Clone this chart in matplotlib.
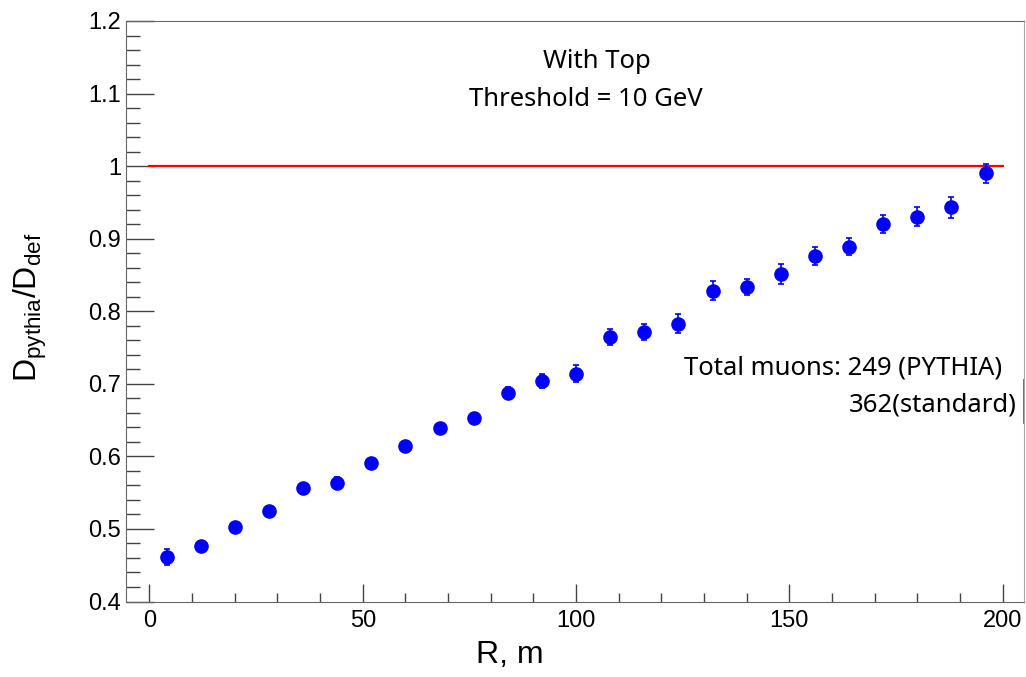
import matplotlib
matplotlib.use("Agg")
import matplotlib.pyplot as plt
from matplotlib.ticker import MultipleLocator

plt.rcParams['font.family'] = ['Liberation Sans', 'DejaVu Sans']
plt.rcParams['mathtext.fontset'] = 'custom'
plt.rcParams['mathtext.rm'] = 'Liberation Sans'

# bin centres (m) and ratio D_pythia / D_def with errors
r = [4, 12, 20, 28, 36, 44, 52, 60, 68, 76, 84, 92, 100,
     108, 116, 124, 132, 140, 148, 156, 164, 172, 180, 188, 196]
ratio = [0.461, 0.476, 0.503, 0.525, 0.556, 0.564, 0.591, 0.614, 0.639,
         0.653, 0.688, 0.704, 0.714, 0.765, 0.772, 0.783, 0.828, 0.833,
         0.851, 0.876, 0.889, 0.920, 0.930, 0.943, 0.990]
err = [0.011, 0.007, 0.007, 0.007, 0.007, 0.007, 0.007, 0.007, 0.007,
       0.007, 0.008, 0.010, 0.012, 0.011, 0.011, 0.013, 0.013, 0.011,
       0.014, 0.012, 0.012, 0.012, 0.013, 0.015, 0.013]
ref_x = [0, 200]
ref_y = [1, 1]

fig = plt.figure(figsize=(10.26, 6.77), dpi=100)
ax = fig.add_axes([0.1228, 0.1115, 0.8752, 0.8575])

ax.plot(ref_x, ref_y, color='red', lw=1.6)
ax.errorbar(r, ratio, yerr=err, fmt='o', color='blue', ms=9.5,
            elinewidth=1.2, capsize=2.2, capthick=1.2)

ax.set_xlim(-5.5, 205)
ax.set_ylim(0.4, 1.2)
ax.xaxis.set_major_locator(MultipleLocator(50))
ax.xaxis.set_minor_locator(MultipleLocator(10))
ax.yaxis.set_major_locator(MultipleLocator(0.1))
ax.yaxis.set_minor_locator(MultipleLocator(0.02))
ax.yaxis.set_major_formatter(matplotlib.ticker.FuncFormatter(lambda v, p: ('%.1f' % v).rstrip('0').rstrip('.') if abs(v - 1) > 1e-9 else '1'))

ax.tick_params(axis='x', which='major', direction='in', length=13, width=1, color='#444444', labelsize=17, pad=6)
ax.tick_params(axis='x', which='minor', direction='in', length=6.5, width=1, color='#444444')
ax.tick_params(axis='y', which='major', direction='in', length=20, width=1, color='#444444', labelsize=17, pad=3.6)
ax.tick_params(axis='y', which='minor', direction='in', length=10, width=1, color='#444444')

for s in ['left', 'bottom', 'top']:
    ax.spines[s].set_color('#666666')
ax.spines['right'].set_color('#aaaaaa')

ax.set_xlabel('R, m', fontsize=23, va='center')
ax.xaxis.set_label_coords(0.427, -0.092)
ax.set_ylabel(r'$\mathregular{D_{pythia}/D_{def}}$', fontsize=23, va='center')
ax.yaxis.set_label_coords(-0.107, 0.507)

fs = 18.5
fig.text(596.7 / 1026, 1 - 62 / 677, 'With Top', fontsize=fs, family='Noto Sans', ha='center', va='center')
fig.text(586 / 1026, 1 - 100 / 677, 'Threshold = 10 GeV', fontsize=fs, family='Noto Sans', ha='center', va='center')
fig.text(1002 / 1026, 1 - 368 / 677, 'Total muons: 249 (PYTHIA)', fontsize=fs, family='Noto Sans', ha='right', va='center')
fig.text(1016.7 / 1026, 1 - 405 / 677, '362(standard)', fontsize=fs, family='Noto Sans', ha='right', va='center')

ax.plot([1, 1], [0.308, 0.381], color='#555555', lw=1.2, transform=ax.transAxes, clip_on=False)

fig.savefig('out.png', dpi=100)
